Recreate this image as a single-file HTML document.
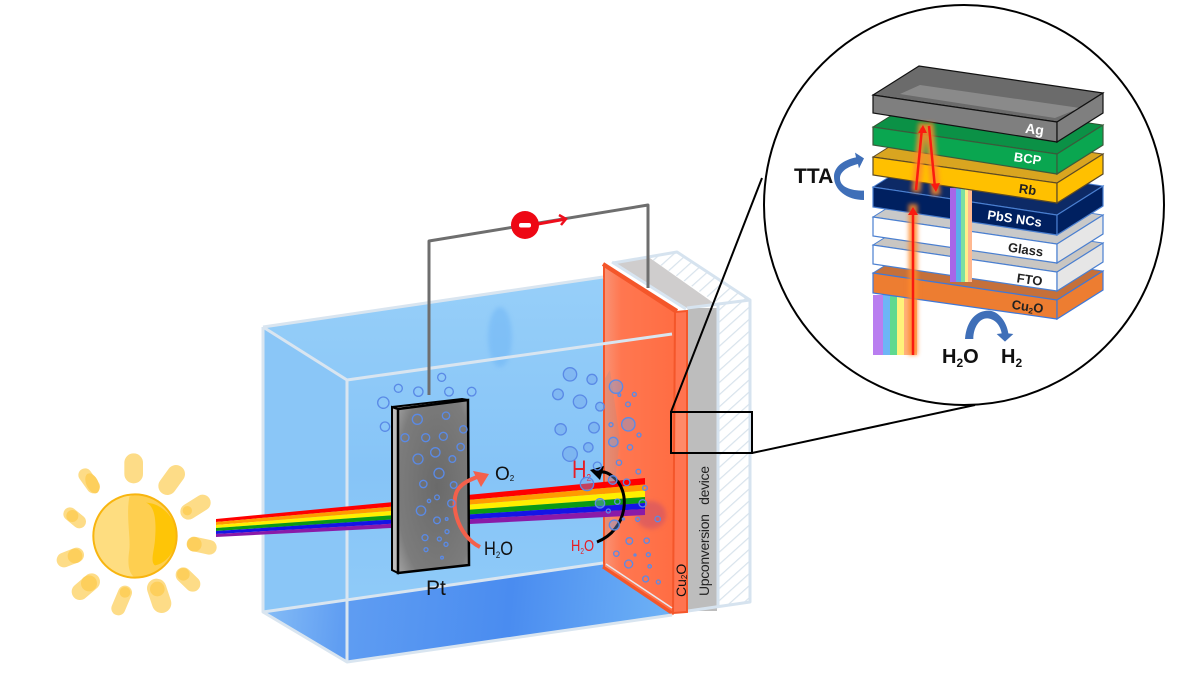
<!DOCTYPE html>
<html><head><meta charset="utf-8"><style>
html,body{margin:0;padding:0;background:#fff;width:1200px;height:675px;overflow:hidden}
svg{display:block}
text{font-family:"Liberation Sans",sans-serif}
.l{font-weight:bold;font-size:13px;text-anchor:middle}
</style></head><body>
<svg width="1200" height="675" viewBox="0 0 1200 675" xmlns="http://www.w3.org/2000/svg">
<defs>
<linearGradient id="w" x1="0" y1="0" x2="0" y2="1"><stop offset="0" stop-color="#97cff9"/><stop offset=".5" stop-color="#86c4f7"/><stop offset="1" stop-color="#93cdf9"/></linearGradient>
<linearGradient id="f" gradientUnits="userSpaceOnUse" x1="263" y1="600" x2="672" y2="640"><stop offset="0" stop-color="#86bdf6"/><stop offset=".2" stop-color="#5f9df2"/><stop offset=".6" stop-color="#4a8cf0"/><stop offset="1" stop-color="#6fb3f6"/></linearGradient>
<linearGradient id="o" x1="0" y1="0" x2="1" y2="0"><stop offset="0" stop-color="#f99578"/><stop offset=".25" stop-color="#ff7750"/><stop offset="1" stop-color="#ff6d43"/></linearGradient>
<radialGradient id="g" cx=".55" cy=".5" r=".8"><stop offset="0" stop-color="#6a6a6a"/><stop offset=".7" stop-color="#7c7c7c"/><stop offset="1" stop-color="#b0b0b0"/></radialGradient>
<pattern id="h" width="9" height="9" patternUnits="userSpaceOnUse" patternTransform="rotate(-42)"><rect width="9" height="9" fill="#fff"/><rect width="9" height="1.2" fill="#d8e3ec"/></pattern>
<filter id="b1" x="-100%" y="-20%" width="300%" height="140%"><feGaussianBlur stdDeviation="2"/></filter>
</defs>

<!-- water -->
<polygon points="263,327 603,277 603,563 347,662 263,612" fill="url(#w)"/>
<polygon points="263,327 347,380 347,662 263,612" fill="#8ac6f7"/>
<ellipse cx="500" cy="337" rx="12" ry="30" fill="#6fb6f5" opacity=".55" filter="url(#b1)"/>
<polygon points="263,612 603,563 672,615 347,662" fill="url(#f)"/>

<!-- device -->
<polygon points="613,263 677,252 750,300 687,308" fill="#fff"/>
<polygon points="613,263 650,258 715,304 687,308" fill="#cfcdcd"/>
<polygon points="650,258 677,252 750,300 718,304" fill="url(#h)"/>
<rect x="688" y="308" width="29" height="303" fill="#bdbdbd"/>
<polygon points="718,305 750,300 750,602 718,607" fill="url(#h)"/>
<g fill="none" stroke="#d6e3ef" stroke-width="3" stroke-linejoin="round">
<path d="M613,263 L677,252 L750,300 L750,602 L688,611"/>
<path d="M687,308 L750,300"/>
<path d="M718,305 L718,607"/>
</g>

<!-- orange plate -->
<polygon points="603,265 675,312 673,613 603,567" fill="url(#o)"/>
<polygon points="604,380 610,370 620,440 610,520 604,560" fill="#b98a80" opacity=".35"/>
<polygon points="675,312 687,311 687,612 673,613" fill="#ff7450"/>
<polygon points="675,412 687,412 687,453 675,453" fill="#ff8a68"/>
<path d="M604,266 L675,312 L673,613 L604,567 Z" fill="none" stroke="#f4562a" stroke-width="2"/>
<path d="M675,312 L687,311 L687,612 L673,613" fill="none" stroke="#f4562a" stroke-width="2"/>
<path d="M603,264 L677,311" stroke="#f4562a" stroke-width="4" fill="none"/>
<path d="M612,262 L686,309" stroke="#d8e5f1" stroke-width="3" fill="none"/>
<path d="M603,567 L673,614" stroke="#f4562a" stroke-width="3" fill="none"/>
<path d="M606,564 L672,608" stroke="#e8e8ee" stroke-width="1.500" fill="none"/>
<ellipse cx="651" cy="515" rx="15" ry="14" fill="#c9506a" opacity=".55" filter="url(#b1)"/>

<!-- frame -->
<g fill="none" stroke="#d9e5f0" stroke-width="3" stroke-linejoin="round">
<path d="M263,327 L603,277"/>
<path d="M263,327 L263,612 L347,662 L672,615"/>
<path d="M263,327 L347,380 L347,662"/>
<path d="M347,380 L672,334"/>
<path d="M263,612 L603,563"/>
</g>

<!-- wire -->
<path d="M429,395 L429,241 L648,205 L648,288" fill="none" stroke="#6e6e6e" stroke-width="3" stroke-linejoin="round"/>
<path d="M538,224 L566,219" stroke="#ee0e1c" stroke-width="3" fill="none"/>
<path d="M559,215 L566,219 L561,225" stroke="#ee0e1c" stroke-width="2.500" fill="none"/>
<circle cx="525" cy="225" r="14" fill="#ee0814"/>
<rect x="519" y="223" width="12" height="4.500" rx="2" fill="#fff"/>

<!-- beam -->
<g>
<polygon points="216,519 645,478 645,484.500 216,522" fill="#ff0000"/>
<polygon points="216,522 645,484.500 645,490.500 216,525" fill="#ff9b00"/>
<polygon points="216,525 645,490.500 645,497 216,528" fill="#ffef00"/>
<polygon points="216,528 645,497 645,503 216,531" fill="#0b9a14"/>
<polygon points="216,531 645,503 645,509 216,534" fill="#1414e6"/>
<polygon points="216,534 645,509 645,515 216,537" fill="#8a1aa8"/>
</g>

<!-- Pt electrode -->
<polygon points="392,407 398,409 398,573 392,570" fill="#bdbdbd" stroke="#000" stroke-width="2"/>
<polygon points="392,407 398,409 468,400 462,399" fill="#d5d5d5" stroke="#000" stroke-width="2"/>
<polygon points="398,409 468,400 469,565 398,573" fill="url(#g)" stroke="#000" stroke-width="2.500"/>

<!-- arrows at Pt -->
<path d="M480,547 C456,535 449,500 459,488 C464,482 470,480 477,477" fill="none" stroke="#f4604b" stroke-width="4"/>
<polygon points="489,474 473,471 481,487" fill="#f4604b"/>
<text x="495" y="480" font-size="19" fill="#111">O<tspan font-size="8" dy="1">2</tspan></text>
<text x="484" y="555" font-size="19" fill="#111" textLength="29" lengthAdjust="spacingAndGlyphs">H<tspan font-size="9" dy="3">2</tspan><tspan dy="-3">O</tspan></text>
<text x="426" y="595" font-size="21" fill="#111">Pt</text>

<!-- arrow at Cu2O -->
<path d="M597,542 C628,530 632,490 612,476 C607,472 602,471 598,473" fill="none" stroke="#000" stroke-width="3"/>
<polygon points="590,470 604,466 600,480" fill="#000"/>
<text x="572" y="478" font-size="25" fill="#e71d25" textLength="19" lengthAdjust="spacingAndGlyphs">H<tspan font-size="10" dy="3">2</tspan></text>
<text x="571" y="551" font-size="16" fill="#e71d25" textLength="23" lengthAdjust="spacingAndGlyphs">H<tspan font-size="8" dy="3">2</tspan><tspan dy="-3">O</tspan></text>
<text transform="translate(686,597) rotate(-90)" font-size="14" fill="#111">Cu<tspan font-size="8" dy="1">2</tspan><tspan dy="-1">O</tspan></text>
<text transform="translate(709,596) rotate(-90)" font-size="14" fill="#222" textLength="130" word-spacing="6">Upconversion device</text>

<!-- bubbles -->
<g transform="translate(340,360) scale(.33333)" fill="none" stroke="#5a8ae6" stroke-width="4">
<circle cx="130" cy="128" r="17"/><circle cx="175" cy="85" r="12"/><circle cx="235" cy="95" r="14"/><circle cx="305" cy="52" r="12"/><circle cx="327" cy="95" r="13"/><circle cx="395" cy="95" r="13"/><circle cx="135" cy="200" r="14"/><circle cx="232" cy="178" r="15"/><circle cx="318" cy="167" r="11"/><circle cx="370" cy="208" r="11"/><circle cx="195" cy="233" r="12"/><circle cx="257" cy="233" r="12"/><circle cx="310" cy="229" r="12"/><circle cx="362" cy="261" r="11"/><circle cx="286" cy="277" r="14"/><circle cx="337" cy="297" r="10"/><circle cx="234" cy="297" r="15"/><circle cx="297" cy="340" r="15"/><circle cx="250" cy="372" r="11"/><circle cx="341" cy="375" r="10"/><circle cx="334" cy="430" r="11"/><circle cx="243" cy="452" r="14"/><circle cx="291" cy="481" r="10"/><circle cx="255" cy="533" r="9"/><circle cx="298" cy="537" r="6"/><circle cx="318" cy="553" r="6"/><circle cx="258" cy="569" r="6"/><circle cx="306" cy="593" r="4"/><circle cx="291" cy="412" r="7"/><circle cx="267" cy="423" r="5"/><circle cx="320" cy="477" r="4"/><circle cx="321" cy="515" r="6"/>
<g fill="#6f9fe8" fill-opacity=".4">
<circle cx="690" cy="43" r="20"/><circle cx="756" cy="58" r="15"/><circle cx="654" cy="103" r="16"/><circle cx="720" cy="125" r="20"/><circle cx="780" cy="140" r="13"/><circle cx="662" cy="208" r="17"/><circle cx="762" cy="203" r="16"/><circle cx="690" cy="282" r="22"/><circle cx="745" cy="262" r="14"/><circle cx="741" cy="372" r="20"/><circle cx="828" cy="80" r="20"/><circle cx="865" cy="193" r="20"/><circle cx="820" cy="246" r="14"/><circle cx="780" cy="430" r="14"/><circle cx="823" cy="495" r="15"/><circle cx="818" cy="360" r="13"/>
</g>
<circle cx="772" cy="318" r="12"/><circle cx="864" cy="133" r="7"/><circle cx="883" cy="103" r="6"/><circle cx="838" cy="105" r="4"/><circle cx="813" cy="194" r="6"/><circle cx="897" cy="225" r="6"/><circle cx="870" cy="262" r="8"/><circle cx="837" cy="308" r="8"/><circle cx="895" cy="335" r="7"/><circle cx="860" cy="367" r="10"/><circle cx="915" cy="384" r="7"/><circle cx="832" cy="425" r="8"/><circle cx="908" cy="430" r="11"/><circle cx="805" cy="453" r="6"/><circle cx="953" cy="477" r="8"/><circle cx="893" cy="478" r="6"/><circle cx="868" cy="543" r="10"/><circle cx="920" cy="542" r="8"/><circle cx="829" cy="581" r="8"/><circle cx="885" cy="585" r="3"/><circle cx="925" cy="584" r="6"/><circle cx="866" cy="612" r="12"/><circle cx="929" cy="619" r="5"/><circle cx="917" cy="657" r="9"/><circle cx="955" cy="666" r="6"/><circle cx="850" cy="477" r="3"/>
</g>

<!-- sun -->
<g transform="translate(40,440) scale(.33333)">
<g fill="none" stroke="#fddc87" stroke-linecap="round">
<path d="M281,68 L281,102" stroke-width="56"/>
<path d="M408,102 L382,138" stroke-width="54"/>
<path d="M488,188 L445,215" stroke-width="48"/>
<path d="M508,322 L462,312" stroke-width="44"/>
<path d="M458,432 L430,405" stroke-width="46"/>
<path d="M365,490 L350,445" stroke-width="58"/>
<path d="M235,505 L255,458" stroke-width="42"/>
<path d="M120,455 L155,425" stroke-width="50"/>
<path d="M72,360 L110,345" stroke-width="44"/>
<path d="M118,245 L90,222" stroke-width="40"/>
<path d="M160,140 L135,105" stroke-width="40"/>
</g>
<g fill="#fdcf5c">
<ellipse cx="157" cy="130" rx="18" ry="32" transform="rotate(-25 157 130)"/><circle cx="442" cy="212" r="14"/><circle cx="463" cy="313" r="22"/><circle cx="430" cy="403" r="19"/><circle cx="352" cy="447" r="22"/><circle cx="255" cy="457" r="16"/><circle cx="147" cy="430" r="24"/><circle cx="105" cy="348" r="22"/><circle cx="97" cy="228" r="18"/>
</g>
<circle cx="285" cy="288" r="125" fill="#fedd80"/>
<path d="M285,163 A125,125 0 0 1 285,413 C265,400 262,370 268,330 C272,290 258,230 268,170 Z" fill="#fecf50"/>
<path d="M318,188 C350,200 348,260 345,300 C342,335 330,365 345,376 C380,370 410,330 410,288 C410,240 370,190 318,188 Z" fill="#fec507"/>
<circle cx="285" cy="288" r="125" fill="none" stroke="#f8b50f" stroke-width="6"/>
</g>

<!-- zoom lines -->
<g fill="none" stroke="#000" stroke-width="2">
<rect x="671" y="412" width="81" height="41"/>
<path d="M671,412 L762,178"/>
<path d="M752,453 L975,405"/>
</g>
<circle cx="964" cy="205" r="200" fill="#fff" stroke="#000" stroke-width="2"/>

<!-- stack: bottom rainbow -->
<rect x="873" y="295" width="10" height="60" fill="#b97ef0"/>
<rect x="883" y="295" width="7" height="60" fill="#6db5f6"/>
<rect x="890" y="295" width="7" height="60" fill="#5fd98f"/>
<rect x="897" y="295" width="7" height="60" fill="#fff27a"/>
<rect x="904" y="295" width="13" height="60" fill="#ffb27c"/>

<!-- Cu2O -->
<polygon points="873,273 919,244 1103,271 1057,300" fill="#c5703a" stroke="#4a7fd0" stroke-width="1"/>
<polygon points="873,273 1057,300 1057,319 873,293" fill="#ed7d31" stroke="#3f78d8" stroke-width="1.200"/>
<polygon points="1057,300 1103,271 1103,290 1057,319" fill="#ed7d31" stroke="#3f78d8" stroke-width="1.200"/>
<!-- FTO -->
<polygon points="873,245 919,216 1103,243 1057,272" fill="#c9c6c2" stroke="#4a7fd0" stroke-width="1"/>
<polygon points="873,245 1057,272 1057,291 873,264" fill="#fff" stroke="#4a7fd0" stroke-width="1.200"/>
<polygon points="1057,272 1103,243 1103,262 1057,291" fill="#e6e6e6" stroke="#4a7fd0" stroke-width="1.200"/>
<!-- Glass -->
<polygon points="873,217 919,188 1103,215 1057,244" fill="#c9c9c9" stroke="#4a7fd0" stroke-width="1"/>
<polygon points="873,217 1057,244 1057,263 873,236" fill="#fff" stroke="#4a7fd0" stroke-width="1.200"/>
<polygon points="1057,244 1103,215 1103,234 1057,263" fill="#e6e6e6" stroke="#4a7fd0" stroke-width="1.200"/>
<!-- PbS -->
<polygon points="873,187 919,158 1103,186 1057,215" fill="#0d2a66" stroke="#4a7fd0" stroke-width="1"/>
<polygon points="873,187 1057,215 1057,235 873,207" fill="#002060" stroke="#4a7fd0" stroke-width="1.200"/>
<polygon points="1057,215 1103,186 1103,206 1057,235" fill="#002060" stroke="#4a7fd0" stroke-width="1.200"/>

<!-- middle rainbow -->
<rect x="950" y="188" width="6" height="94" fill="#a766e8"/>
<rect x="956" y="188" width="5" height="94" fill="#5aaeea"/>
<rect x="961" y="188" width="4" height="94" fill="#7ee0a0"/>
<rect x="965" y="188" width="3" height="94" fill="#fff08a"/>
<rect x="968" y="188" width="4" height="94" fill="#ffb890"/>

<!-- Rb -->
<polygon points="873,157 919,128 1103,154 1057,183" fill="#d9a520" stroke="#5c4a25" stroke-width="1"/>
<polygon points="873,157 1057,183 1057,203 873,175" fill="#ffc000" stroke="#5c4a25" stroke-width="1.200"/>
<polygon points="1057,183 1103,154 1103,174 1057,203" fill="#ffc000" stroke="#5c4a25" stroke-width="1.200"/>
<!-- BCP -->
<polygon points="873,127 919,98 1103,125 1057,154" fill="#0b9146" stroke="#2f4f2f" stroke-width="1"/>
<polygon points="873,127 1057,154 1057,174 873,145" fill="#0aa650" stroke="#3b5a3b" stroke-width="1.200"/>
<polygon points="1057,154 1103,125 1103,145 1057,174" fill="#0aa650" stroke="#3b5a3b" stroke-width="1.200"/>
<!-- Ag -->
<polygon points="873,95 919,66 1103,93 1057,122" fill="#6b6b6b" stroke="#111" stroke-width="1.200"/>
<polygon points="900,94 920,85 1080,108 1055,118" fill="#8a8a8a"/>
<polygon points="873,95 1057,122 1057,142 873,113" fill="#7f7f7f" stroke="#111" stroke-width="1.200"/>
<polygon points="1057,122 1103,93 1103,113 1057,142" fill="#7f7f7f" stroke="#111" stroke-width="1.200"/>

<!-- red arrows -->
<g fill="none" stroke="#ff8a2a" stroke-width="9" opacity=".85" filter="url(#b1)">
<path d="M913,355 L913,204"/><path d="M916,192 L923,123"/><path d="M929,123 L936,195"/>
</g>
<g fill="none" stroke="#fa1a10" stroke-width="2.500">
<path d="M913,355 L913,212"/><path d="M916,190 L922,128"/><path d="M929,126 L935,188"/>
</g>
<g fill="#fa1a10">
<polygon points="913,207 908,215 918,215"/><polygon points="923,125 918,133 927,133"/><polygon points="936,192 931,184 940,183"/>
</g>

<!-- labels -->
<text class="l" fill="#fff" transform="translate(1034,134) rotate(8)" style="font-size:14px">Ag</text>
<text class="l" fill="#fff" transform="translate(1027,163) rotate(8)">BCP</text>
<text class="l" fill="#222" transform="translate(1027,194) rotate(8)">Rb</text>
<text class="l" fill="#fff" transform="translate(1014,223) rotate(8)">PbS NCs</text>
<text class="l" fill="#222" transform="translate(1025,254) rotate(8)">Glass</text>
<text class="l" fill="#222" transform="translate(1029,284) rotate(8)">FTO</text>
<text class="l" fill="#222" transform="translate(1027,311) rotate(8)">Cu<tspan font-size="8" dy="2">2</tspan><tspan dy="-2">O</tspan></text>

<text x="794" y="183" font-size="21" font-weight="bold" fill="#111">TTA</text>
<g transform="translate(760,50) scale(.33333)" fill="#3f6fb8">
<path d="M312,450 C260,450 222,420 222,380 C222,350 250,330 288,322 L285,308 L312,325 L297,355 L294,342 C262,350 240,365 240,385 C240,410 270,422 312,422 Z"/>
<path d="M615,867 C620,810 650,782 685,782 C715,782 740,815 745,850 L760,852 L735,875 L710,852 L725,850 C720,820 700,805 680,805 C660,805 640,830 640,867 Z"/>
</g>

<text x="942" y="363" font-size="20" font-weight="bold" fill="#111">H<tspan font-size="12" dy="4">2</tspan><tspan dy="-4">O</tspan></text>
<text x="1001" y="363" font-size="20" font-weight="bold" fill="#111">H<tspan font-size="12" dy="4">2</tspan></text>
</svg>
</body></html>
